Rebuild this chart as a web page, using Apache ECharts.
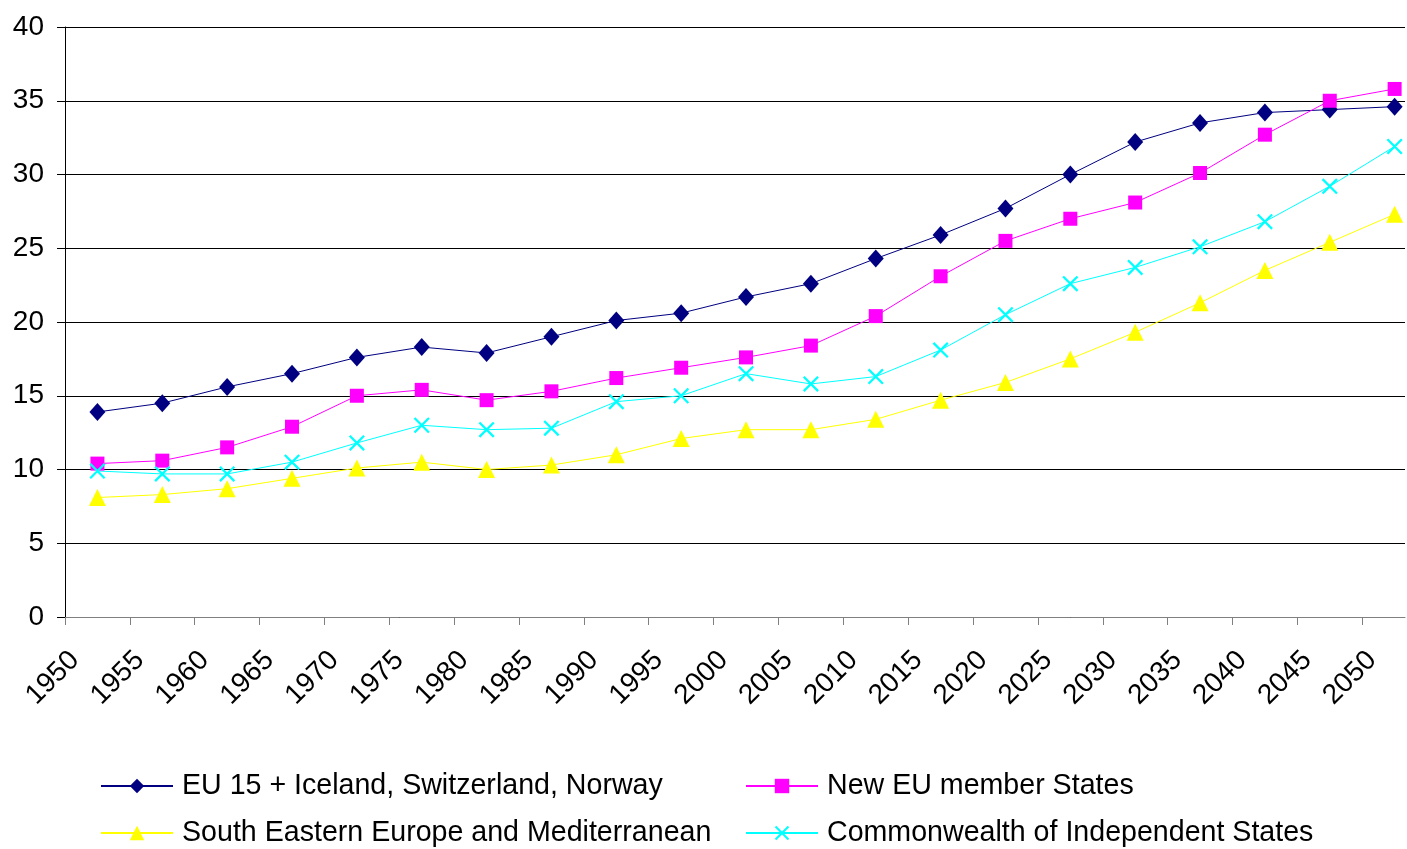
<!DOCTYPE html>
<html>
<head>
<meta charset="utf-8">
<script src="https://cdn.jsdelivr.net/npm/echarts@6/dist/echarts.min.js"></script>
<style>html,body{margin:0;padding:0;background:#fff;}#c{width:1407px;height:849px;}</style>
</head>
<body>
<div id="c"></div>
<script>
// Period midpoints (5-year periods 1950-55 ... 2050-55)
const years = [1952.5,1957.5,1962.5,1967.5,1972.5,1977.5,1982.5,1987.5,1992.5,1997.5,2002.5,2007.5,2012.5,2017.5,2022.5,2027.5,2032.5,2037.5,2042.5,2047.5,2052.5];
const xTicks = [1950,1955,1960,1965,1970,1975,1980,1985,1990,1995,2000,2005,2010,2015,2020,2025,2030,2035,2040,2045,2050];
const seriesNames = ["EU 15 + Iceland, Switzerland, Norway","New EU member States","South Eastern Europe and Mediterranean","Commonwealth of Independent States"];
const eu15 = [13.9,14.5,15.6,16.5,17.6,18.3,17.9,19.0,20.1,20.6,21.7,22.6,24.3,25.9,27.7,30.0,32.2,33.5,34.2,34.4,34.6];
const newEU = [10.4,10.6,11.5,12.9,15.0,15.4,14.7,15.3,16.2,16.9,17.6,18.4,20.4,23.1,25.5,27.0,28.1,30.1,32.7,35.0,35.8];
const see = [8.1,8.3,8.7,9.4,10.1,10.5,10.0,10.3,11.0,12.1,12.7,12.7,13.4,14.7,15.9,17.5,19.3,21.3,23.5,25.4,27.3];
const cis = [9.9,9.7,9.7,10.5,11.8,13.0,12.7,12.8,14.6,15.0,16.5,15.8,16.3,18.1,20.5,22.6,23.7,25.1,26.8,29.2,31.9];

const FONT = "Liberation Sans, Arial, sans-serif";
const pair = arr => years.map((y,i)=>[y,arr[i]]);
const crossPath = 'path://M0,1L1,0L10,9L9,10Z M9,0L10,1L1,10L0,9Z';

const legendPos = [[100,771],[745,771],[100,818],[745,818]];
const legends = seriesNames.map((n,i)=>({
  data:[n], left:legendPos[i][0], top:legendPos[i][1], padding:0,
  itemWidth:72, itemHeight:18, selectedMode:false,
  textStyle:{fontFamily:FONT, fontSize:28.6, color:'#000', lineHeight:30, padding:[0,0,0,4]}
}));

const chart = echarts.init(document.getElementById('c'), null, {renderer:'canvas'});
chart.setOption({
  animation:false,
  backgroundColor:'#fff',
  grid:{left:65, top:27, right:2, bottom:232, containLabel:false},
  xAxis:{
    type:'value', min:1950, max:2053.3, interval:5,
    splitLine:{show:false},
    axisLine:{show:true, lineStyle:{color:'#808080', width:1}},
    axisTick:{show:true, inside:false, length:8, lineStyle:{color:'#808080'}, customValues:xTicks},
    axisLabel:{customValues:xTicks, rotate:45, margin:29, verticalAlign:'top', color:'#000', fontFamily:FONT, fontSize:28,
      formatter: v => String(v)}
  },
  yAxis:{
    type:'value', min:0, max:40, interval:5,
    splitLine:{show:true, lineStyle:{color:'#000', width:1}},
    axisLine:{show:true, lineStyle:{color:'#000', width:1}},
    axisTick:{show:true, inside:false, length:8, lineStyle:{color:'#000'}},
    axisLabel:{margin:21, color:'#000', fontFamily:FONT, fontSize:28}
  },
  legend:legends,
  series:[
    {name:seriesNames[0], type:'line', data:pair(eu15), symbol:'diamond', symbolSize:[16,18], showAllSymbol:true,
     itemStyle:{color:'#000080'}, lineStyle:{color:'#000080', width:1}},
    {name:seriesNames[1], type:'line', data:pair(newEU), symbol:'rect', symbolSize:14, showAllSymbol:true,
     itemStyle:{color:'#FF00FF'}, lineStyle:{color:'#FF00FF', width:1}},
    {name:seriesNames[2], type:'line', data:pair(see), symbol:'triangle', symbolSize:17, showAllSymbol:true,
     itemStyle:{color:'#FFFF00'}, lineStyle:{color:'#FFFF00', width:1}},
    {name:seriesNames[3], type:'line', data:pair(cis), symbol:crossPath, symbolSize:16, showAllSymbol:true,
     itemStyle:{color:'#00FFFF'}, lineStyle:{color:'#00FFFF', width:1}}
  ]
});
</script>
</body>
</html>
